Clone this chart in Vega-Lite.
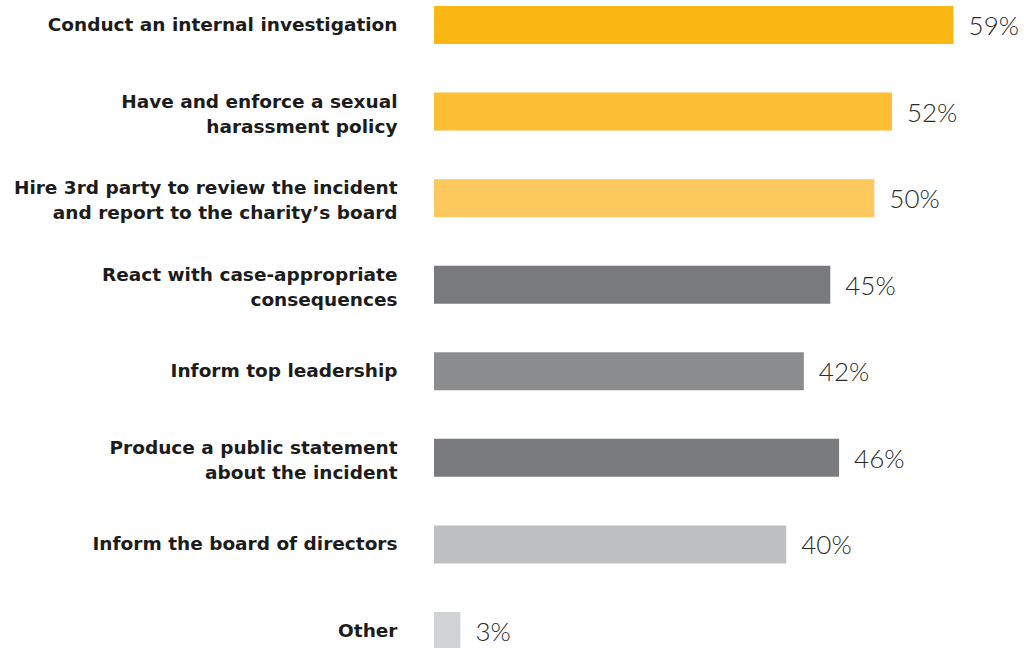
{
  "$schema": "https://vega.github.io/schema/vega-lite/v6.json",
  "autosize": "none",
  "width": 590,
  "height": 644,
  "padding": {"left": 434, "top": 6, "right": 0, "bottom": 0},
  "background": "white",
  "config": {"view": {"stroke": null}},
  "data": {"values": [
    {"label": "Conduct an internal investigation", "value": 0.59},
    {"label": "Have and enforce a sexual|harassment policy", "value": 0.52},
    {"label": "Hire 3rd party to review the incident|and report to the charity’s board", "value": 0.50},
    {"label": "React with case-appropriate|consequences", "value": 0.45},
    {"label": "Inform top leadership", "value": 0.42},
    {"label": "Produce a public statement|about the incident", "value": 0.46},
    {"label": "Inform the board of directors", "value": 0.40},
    {"label": "Other", "value": 0.03}
  ]},
  "encoding": {
    "y": {"field": "label", "type": "nominal", "sort": null,
      "scale": {"paddingInner": 0.561, "paddingOuter": 0},
      "axis": {"title": null, "domain": false, "ticks": false, "labelPadding": 37,
        "labelExpr": "split(datum.label, '|')",
        "labelOffset": {"expr": "indexof(datum.label, '|') >= 0 ? -10 : 0"},
        "labelFont": "DejaVu Sans", "labelFontSize": 18.5,
        "labelFontWeight": "bold", "labelColor": "#1c1c1c", "labelLineHeight": 25, "labelLimit": 430}},
    "x": {"field": "value", "type": "quantitative", "scale": {"domain": [0, 0.67]}, "axis": null}
  },
  "layer": [
    {"mark": {"type": "bar"},
     "encoding": {"color": {"field": "label", "type": "nominal", "sort": null, "legend": null,
       "scale": {"range": ["#FBB814", "#FCBE33", "#FDC85C", "#797A7E", "#8C8D8F", "#797A7E", "#BEBFC1", "#D1D2D4"]}}}},
    {"mark": {"type": "text", "align": "left", "baseline": "middle", "dx": 15, "dy": 2, "font": "Lato", "fontWeight": 300, "fontSize": 26, "color": "#2a2a2a"},
     "encoding": {"text": {"field": "value", "type": "quantitative", "format": ".0%"}}}
  ]
}
